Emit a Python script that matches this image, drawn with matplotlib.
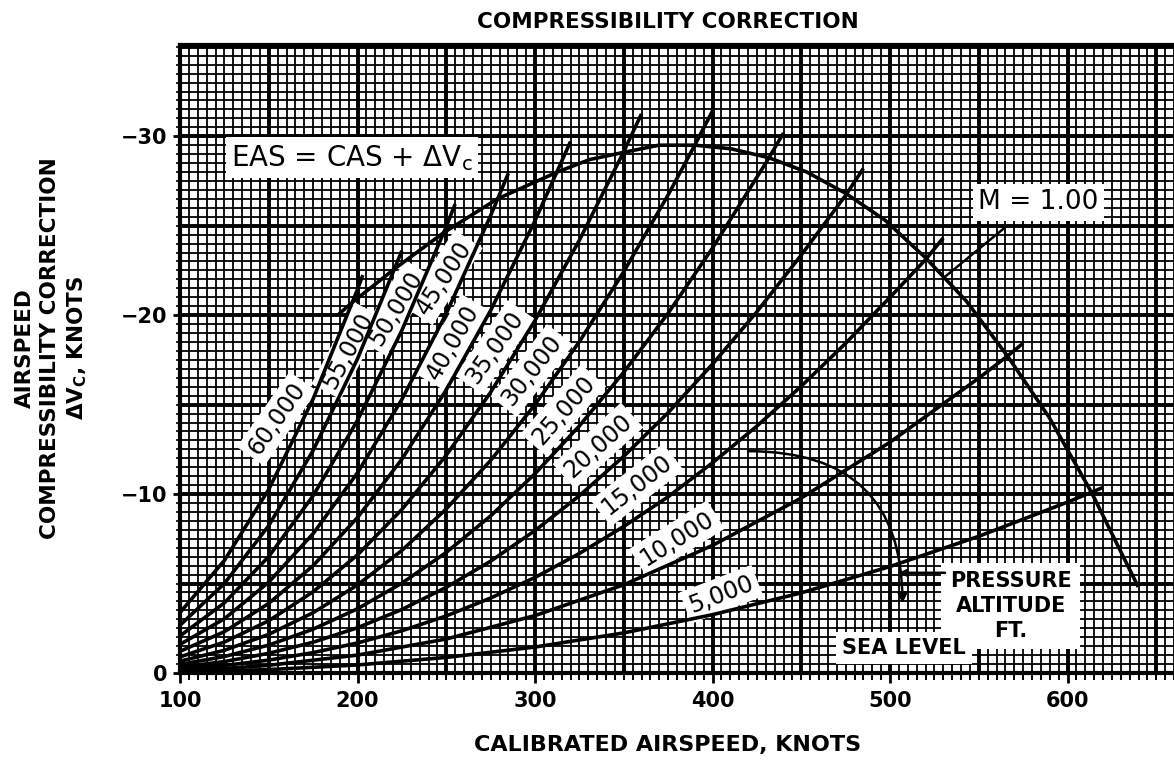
import matplotlib
matplotlib.use("Agg")
import matplotlib.pyplot as plt
import numpy as np

plt.rcParams['font.family'] = ['DejaVu Sans']

# ---- data: calibrated airspeed (knots) vs compressibility correction (knots) ----
cas_60k = [100, 125, 150, 175, 200, 203]
dv_60k = [-3.38, -6.29, -10.26, -15.32, -21.44, -22.24]

cas_55k = [100, 125, 150, 175, 200, 225]
dv_55k = [-2.67, -5.00, -8.24, -12.44, -17.56, -23.60]

cas_50k = [100, 125, 150, 175, 200, 225, 250, 255]
dv_50k = [-2.07, -3.92, -6.51, -9.91, -14.12, -19.15, -24.95, -26.21]

cas_45k = [100, 125, 150, 175, 200, 225, 250, 275, 285]
dv_45k = [-1.60, -3.03, -5.08, -7.79, -11.19, -15.29, -20.09, -25.56, -27.93]

cas_40k = [100, 125, 150, 175, 200, 225, 250, 275, 300, 320]
dv_40k = [-1.21, -2.31, -3.89, -6.00, -8.69, -11.95, -15.82, -20.26, -25.28, -29.70]

cas_35k = [100, 125, 150, 175, 200, 225, 250, 275, 300, 325, 350, 360]
dv_35k = [-0.90, -1.73, -2.92, -4.54, -6.60, -9.14, -12.17, -15.69, -19.70, -24.19, -29.14, -31.25]

cas_30k = [100, 125, 150, 175, 200, 225, 250, 275, 300, 325, 350, 375, 390, 400]
dv_30k = [-0.66, -1.27, -2.16, -3.37, -4.92, -6.85, -9.17, -11.88, -15.00, -18.52, -22.43, -26.72, -29.50, -31.41]

cas_25k = [100, 125, 150, 175, 200, 225, 250, 275, 300, 325, 350, 375, 400, 430, 440]
dv_25k = [-0.48, -0.92, -1.56, -2.45, -3.59, -5.02, -6.74, -8.78, -11.14, -13.81, -16.81, -20.11, -23.75, -28.50, -30.18]

cas_20k = [100, 125, 150, 175, 200, 225, 250, 275, 300, 325, 350, 375, 400, 425, 450, 475, 485]
dv_20k = [-0.33, -0.64, -1.10, -1.72, -2.53, -3.55, -4.79, -6.25, -7.96, -9.91, -12.11, -14.55, -17.26, -20.19, -23.36, -26.70, -28.20]

cas_15k = [100, 125, 150, 175, 200, 225, 250, 275, 300, 325, 350, 375, 400, 425, 450, 475, 500, 520, 530]
dv_15k = [-0.22, -0.42, -0.72, -1.14, -1.68, -2.36, -3.19, -4.19, -5.34, -6.68, -8.19, -9.85, -11.75, -13.80, -16.03, -18.43, -21.00, -23.10, -24.32]

cas_10k = [100, 125, 150, 200, 250, 300, 350, 400, 450, 500, 550, 566, 575]
dv_10k = [-0.13, -0.25, -0.43, -1.00, -1.90, -3.21, -4.93, -7.13, -9.78, -12.90, -16.48, -17.70, -18.43]

cas_5k = [100, 150, 200, 250, 300, 350, 400, 450, 500, 550, 600, 620]
dv_5k = [-0.06, -0.19, -0.45, -0.87, -1.45, -2.24, -3.26, -4.48, -5.95, -7.64, -9.55, -10.37]

cas_sl = [100, 660]
dv_sl = [0.0, 0.0]

# Mach 1.00 locus
cas_m1 = [190.0, 196.9, 221.0, 248.4, 278.8, 312.6, 330.9, 350.0, 369.8, 390.0, 410.4,
          431.8, 453.1, 475.2, 497.3, 520.1, 542.9, 566.3, 589.6, 613.5, 639.4]
dv_m1 = [-20.1, -20.7, -22.6, -24.6, -26.5, -28.0, -28.7, -29.1, -29.5, -29.5, -29.3,
         -28.8, -28.0, -26.8, -25.3, -23.2, -20.8, -17.7, -14.3, -10.1, -4.9]

alt_labels = ['60,000', '55,000', '50,000', '45,000', '40,000', '35,000', '30,000',
              '25,000', '20,000', '15,000', '10,000', '5,000']

x_ticks = [100, 200, 300, 400, 500, 600]
y_ticks = [0, -10, -20, -30]
y_tick_labels = ['0', '\u221210', '\u221220', '\u221230']

curves = [(cas_60k, dv_60k), (cas_55k, dv_55k), (cas_50k, dv_50k), (cas_45k, dv_45k),
          (cas_40k, dv_40k), (cas_35k, dv_35k), (cas_30k, dv_30k), (cas_25k, dv_25k),
          (cas_20k, dv_20k), (cas_15k, dv_15k), (cas_10k, dv_10k), (cas_5k, dv_5k)]

# label placement (layout only): x, y, rotation
label_pos = [(154.6, -14.2, 55), (194.5, -18.0, 62), (221.5, -20.4, 59), (248.5, -22.1, 57),
             (253.5, -18.5, 60), (277.5, -18.2, 55), (298.3, -16.9, 52), (316.0, -14.7, 49),
             (335.5, -12.7, 42), (357.5, -10.5, 38), (380.0, -7.5, 32), (405.0, -4.4, 21)]

W, H = 1174, 763
fig = plt.figure(figsize=(W / 100, H / 100), dpi=100)
fig.patch.set_facecolor('white')
ax = fig.add_axes([180 / W, 90 / H, 1 - 180 / W, (673 - 45) / H])
ax.set_xlim(100, 660)
ax.set_ylim(0, -35.1)

# graph-paper grid
xg = np.arange(100, 661, 5)
yg = np.arange(0, -35.2, -0.5)
xmin = [v for v in xg if v % 50 != 0]
xmaj = [v for v in xg if v % 50 == 0]
ymin = [v for v in yg if abs(v) % 5 != 0]
ymaj = [v for v in yg if abs(v) % 5 == 0]
ax.vlines(xmin, 0, -35.1, color='black', lw=1.3, zorder=0)
ax.hlines(ymin, 100, 660, color='black', lw=1.3, zorder=0)
ax.vlines(xmaj, 0, -35.1, color='black', lw=2.8, zorder=0)
ax.hlines(ymaj, 100, 660, color='black', lw=2.8, zorder=0)

# curves
for cx, cy in curves:
    ax.plot(cx, cy, color='black', lw=2.6, zorder=3, solid_capstyle='butt')
ax.plot(cas_sl, dv_sl, color='black', lw=3.5, zorder=3)
ax.plot(cas_m1, dv_m1, color='black', lw=2.6, zorder=3)

# altitude labels: white patch under the curves, text above
for (lx, ly, rot), s in zip(label_pos, alt_labels):
    ax.text(lx, ly, s, rotation=rot, rotation_mode='anchor', ha='center', va='center',
            fontsize=17, color='white', zorder=2.5,
            bbox=dict(boxstyle='square,pad=0.2', fc='white', ec='none'))
    ax.text(lx, ly, s, rotation=rot, rotation_mode='anchor', ha='center', va='center',
            fontsize=17, color='black', zorder=4)

ax.text(196.9, -28.8, 'EAS = CAS + \u0394V$_\\mathregular{c}$', fontsize=20, ha='center',
        va='center', zorder=5, bbox=dict(boxstyle='square,pad=0.2', fc='white', ec='none'))
ax.text(583.4, -26.3, 'M = 1.00', fontsize=19, ha='center', va='center', zorder=5,
        bbox=dict(boxstyle='square,pad=0.2', fc='white', ec='none'))
ax.annotate('', xy=(530.4, -22.1), xytext=(566.0, -25.0),
            arrowprops=dict(arrowstyle='-', color='black', lw=1.8), zorder=5)

# pressure altitude note
ax.text(568.0, -3.75, 'PRESSURE\nALTITUDE\nFT.', fontsize=15, fontweight='bold',
        ha='center', va='center', linespacing=1.3, zorder=6,
        bbox=dict(boxstyle='square,pad=0.4', fc='white', ec='none'))
ax.text(508.0, -1.4, 'SEA LEVEL', fontsize=15, fontweight='bold', ha='center',
        va='center', zorder=6, bbox=dict(boxstyle='square,pad=0.3', fc='white', ec='none'))
ax.annotate('', xy=(507.0, -3.9), xytext=(420.0, -12.4),
            arrowprops=dict(arrowstyle='-|>', color='black', lw=1.8, mutation_scale=14,
                            connectionstyle='angle3,angleA=0,angleB=90',
                            shrinkA=0, shrinkB=0), zorder=6)
ax.annotate('', xy=(505.0, -5.6), xytext=(531.0, -5.6),
            arrowprops=dict(arrowstyle='->', color='black', lw=1.8, shrinkA=0, shrinkB=0),
            zorder=7)

# axes styling
ax.set_xticks(x_ticks)
ax.set_xticklabels([str(v) for v in x_ticks])
ax.set_xticks(np.arange(100, 661, 5), minor=True)
ax.set_yticks(y_ticks)
ax.set_yticklabels(y_tick_labels)
ax.set_yticks(np.arange(0, -35.1, -0.5), minor=True)
ax.tick_params(axis='x', which='major', direction='out', length=7, width=2, pad=6,
               labelsize=15)
ax.tick_params(axis='x', which='minor', direction='out', length=5, width=1.4)
ax.tick_params(axis='y', which='major', direction='out', length=5, width=2, pad=4,
               labelsize=15)
ax.tick_params(axis='y', which='minor', direction='out', length=3, width=1.2)
for lab in ax.get_xticklabels() + ax.get_yticklabels():
    lab.set_fontweight('bold')
for side in ['left', 'bottom', 'top']:
    ax.spines[side].set_linewidth(3)
ax.spines['right'].set_visible(False)

fig.text(668 / W, 1 - 22 / H, 'COMPRESSIBILITY CORRECTION', fontsize=15.5, fontweight='bold',
         ha='center', va='center')
fig.text(668 / W, 1 - 745 / H, 'CALIBRATED AIRSPEED, KNOTS', fontsize=16, fontweight='bold',
         ha='center', va='center')
fig.text(52 / W, 1 - 348 / H, 'AIRSPEED\nCOMPRESSIBILITY CORRECTION\n\u0394V$_\\mathbf{C}$, KNOTS',
         fontsize=15.5, fontweight='bold', ha='center', va='center', rotation=90,
         linespacing=1.3, multialignment='center')

fig.savefig('out.png', dpi=100, facecolor='white')
